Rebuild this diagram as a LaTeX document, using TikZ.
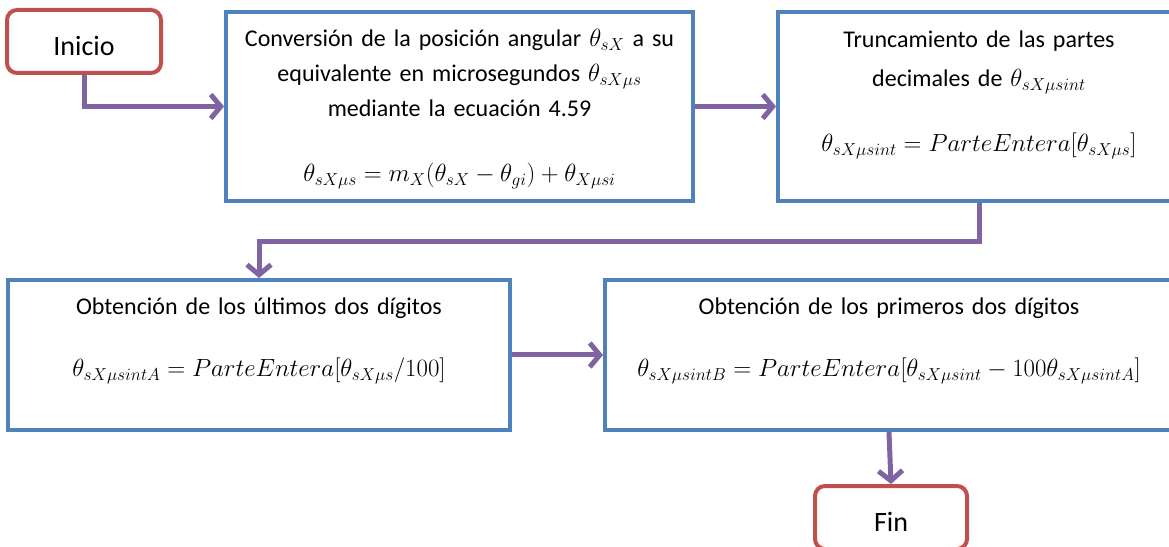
\documentclass[tikz,border=0pt]{standalone}
\usepackage{fontspec}
\setmainfont{Carlito}
\usepackage{amsmath}
\usetikzlibrary{positioning, arrows.meta}

\definecolor{azulcaja}{HTML}{4F81BD}
\definecolor{rojoterm}{HTML}{C0504D}
\definecolor{moradoflecha}{HTML}{8064A2}

\begin{document}
\begin{tikzpicture}[
        x=1pt, y=1pt,
        % Estilos de los nodos
        caja/.style={draw=azulcaja, line width=4pt, align=center, inner sep=0pt, font=\fontsize{24}{35}\selectfont},
        terminal/.style={draw=rojoterm, line width=4pt, rounded corners=10pt, minimum width=154pt, minimum height=63pt, text height=28pt, font=\fontsize{28}{34}\selectfont},
        flecha/.style={draw=moradoflecha, line width=5pt, -{Straight Barb[length=10pt,width=24pt]}}
    ]
    \useasboundingbox (0,0) rectangle (1169,546);
    \clip (0,0) rectangle (1169,546);

    % Inicio
    \node (inicio) [terminal] at (84,504.5) {Inicio};

    % Conversion a microsegundos
    \node (conv) [caja, minimum width=467pt, minimum height=189pt, text width=450pt] at (459.5,439.5)
        {\rule{0pt}{23pt}Conversión de la posición angular $\theta_{sX}$ a su\\
         equivalente en microsegundos $\theta_{sX\mu s}$\\
         mediante la ecuación 4.59\\[30pt]
         \mbox{$\theta_{sX\mu s}=m_X(\theta_{sX}-\theta_{gi})+\theta_{X\mu si}$}};
    \draw [flecha] (inicio.south) |- (conv.west);

    % Truncamiento
    \node (trunc) [caja, minimum width=402pt, minimum height=189pt, text width=380pt] at (979,439.5)
        {Truncamiento de las partes\\[4pt]
         decimales de $\theta_{sX\mu sint}$\\[30pt]
         \mbox{$\theta_{sX\mu sint}=ParteEntera[\theta_{sX\mu s}]$}\\[-4pt]\mbox{}};
    \draw [flecha] (conv.east) -- (trunc.west);

    % Ultimos dos digitos
    \node (ultimos) [caja, minimum width=502pt, minimum height=150pt, text width=480pt] at (259,191)
        {Obtención de los últimos dos dígitos\\[27pt]
         \mbox{$\theta_{sX\mu sintA}=ParteEntera[\theta_{sX\mu s}/100]$}\\\mbox{}};
    \draw [flecha] (trunc.south) -- ++(0,-39) -| (ultimos.north);

    % Primeros dos digitos
    \node (primeros) [caja, minimum width=568pt, minimum height=150pt, text width=550pt] at (889,191)
        {Obtención de los primeros dos dígitos\\[27pt]
         \mbox{$\theta_{sX\mu sintB}=ParteEntera[\theta_{sX\mu sint}-100\theta_{sX\mu sintA}]$}\\\mbox{}};
    \draw [flecha] (ultimos.east) -- (primeros.west);

    % Fin
    \node (fin) [terminal, minimum width=152pt] at (891,28.5) {Fin};
    \draw [flecha] (primeros.south) -- (fin.north);

\end{tikzpicture}
\end{document}
